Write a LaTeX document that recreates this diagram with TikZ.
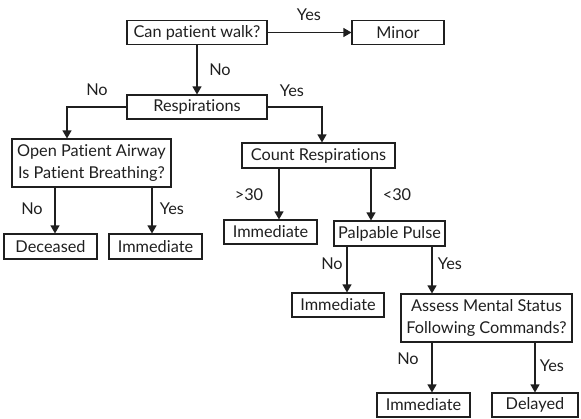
\documentclass[tikz,border=0pt]{standalone}
\usepackage{fontspec}
\setmainfont{Lato}[Ligatures=CommonOff]
\usepackage{tikz}
\usetikzlibrary{arrows.meta}
\usetikzlibrary{calc}

\begin{document}
\begin{tikzpicture}
				[x=1pt,y=-1pt,line cap=butt,
				%Styles
				box/.style={draw=linecolor,line width=1.1pt,inner sep=0pt,minimum height=24pt,align=center,text=linecolor,font=\fontsize{16.3}{22}\selectfont},
				tall box/.style={box,minimum height=48pt},
				arrow/.style={draw=linecolor,line width=1.1pt,-{Triangle[width=9pt,length=8pt]}},
				lbl/.style={inner sep=0pt,text=linecolor,text height=12pt,text depth=3pt,font=\fontsize{16.3}{18}\selectfont}
				]
				
				%Colors
				\colorlet{linecolor}{black!88}
				
				\useasboundingbox (0,0) rectangle (581,418);
				
				%The boxes
				\node[box,minimum width=140pt] (walk) at (197,32.5) {Can patient walk?};
				\node[box,minimum width=92pt] (minor) at (398,32.5) {Minor};
				\node[box,minimum width=140pt] (resp) at (197,107) {Respirations};
				\node[tall box,minimum width=159pt] (airway) at (91.5,163) {Open Patient Airway\\Is Patient Breathing?};
				\node[box,minimum width=153pt,minimum height=25pt] (count) at (318.5,155.5) {Count Respirations};
				\node[box,minimum width=93pt,minimum height=25pt] (dec) at (50.5,246.5) {Deceased};
				\node[box,minimum width=93pt,minimum height=25pt] (imm1) at (155.5,246.5) {Immediate};
				\node[box,minimum width=93pt] (imm2) at (270.5,232) {Immediate};
				\node[box,minimum width=111pt,minimum height=25pt] (pulse) at (389.5,233.5) {Palpable Pulse};
				\node[box,minimum width=92pt] (imm3) at (338,305) {Immediate};
				\node[tall box,minimum width=171pt] (assess) at (486.5,318) {Assess Mental Status\\Following Commands?};
				\node[box,minimum width=93pt] (imm4) at (423.5,405) {Immediate};
				\node[box,minimum width=86pt] (delayed) at (535,405) {Delayed};
				
				%The connectors
				\draw[arrow] (walk.east) -- (minor.west);
				\draw[arrow] (walk.south) -- (resp.north);
				\draw[arrow] (resp.west) -| ([xshift=-24.5pt]airway.north);
				\draw[arrow] (resp.east) -| ([xshift=3.5pt]count.north);
				\draw[arrow] ([xshift=-36.5pt]airway.south) -- ([xshift=-36.5pt]airway.south |- dec.north);
				\draw[arrow] ([xshift=60.5pt]airway.south) -- ([xshift=60.5pt]airway.south |- imm1.north);
				\draw[arrow] ([xshift=-39.5pt]count.south) -- ([xshift=-39.5pt]count.south |- imm2.north);
				\draw[arrow] ([xshift=52.5pt]count.south) -- ([xshift=52.5pt]count.south |- pulse.north);
				\draw[arrow] ([xshift=-42.5pt]pulse.south) -- ([xshift=-42.5pt]pulse.south |- imm3.north);
				\draw[arrow] ([xshift=42.5pt]pulse.south) -- ([xshift=42.5pt]pulse.south |- assess.north);
				\draw[arrow] ([xshift=-54.5pt]assess.south) -- ([xshift=-54.5pt]assess.south |- imm4.north);
				\draw[arrow] ([xshift=48.5pt]assess.south) -- ([xshift=48.5pt]assess.south |- delayed.north);
				
				%The labels
				\node[lbl] (walkyes) at (309,16) {Yes};
				\node[lbl] (walkno) at (220,71) {No};
				\node[lbl] (respno) at (97,91) {No};
				\node[lbl] (respyes) at (292,92) {Yes};
				\node[lbl] (airwayno) at (32,210) {No};
				\node[lbl] (airwayyes) at (172,210) {Yes};
				\node[lbl] (countmore) at (249,196) {>30};
				\node[lbl] (countless) at (397,196) {<30};
				\node[lbl] (pulseno) at (332,265) {No};
				\node[lbl] (pulseyes) at (450,265) {Yes};
				\node[lbl] (assessno) at (408,360) {No};
				\node[lbl] (assessyes) at (552,367) {Yes};
			\end{tikzpicture}
\end{document}
